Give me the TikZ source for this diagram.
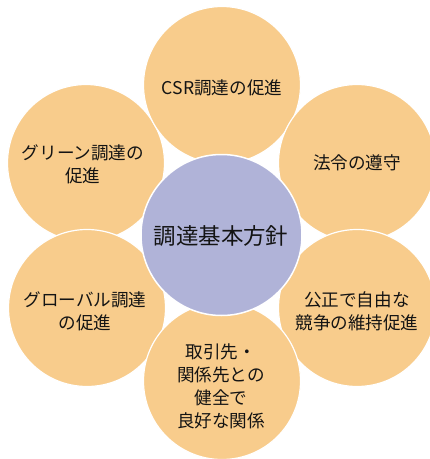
\documentclass[tikz,border=0pt]{standalone}
\usepackage{fontspec}
\setmainfont{Noto Sans CJK JP}
\definecolor{petal}{RGB}{248,204,140}
\definecolor{hub}{RGB}{176,179,216}
\definecolor{txt}{RGB}{20,20,20}
\begin{document}
\begin{tikzpicture}[x=1pt,y=-1pt,
  petalc/.style={circle,fill=petal,draw=white,line width=1.2pt,minimum size=157pt,inner sep=0pt},
  hubc/.style={circle,fill=hub,draw=white,line width=1.5pt,minimum size=161pt,inner sep=0pt},
  ptxt/.style={align=center,text=txt,font=\fontsize{17.6}{23}\selectfont},
  htxt/.style={align=center,text=txt,font=\fontsize{22.5}{27}\selectfont}]
\useasboundingbox (0,0) rectangle (430,459);
\node[petalc] (ul) at (86,163) {};
\node[petalc] (top) at (222,85) {};
\node[petalc] (ur) at (357,163) {};
\node[petalc] (lr) at (357,308) {};
\node[petalc] (ll) at (87,308) {};
\node[petalc] (bot) at (222,381) {};
\node[hubc] (hub) at (221.5,235) {};
\node[ptxt] (tTop) at (222,88) {CSR調達の促進};
\node[ptxt] (tUl) at (83,164) {グリーン調達の\\促進};
\node[ptxt] (tUr) at (357,163) {法令の遵守};
\node[ptxt] (tLr) at (357,311) {公正で自由な\\競争の維持促進};
\node[ptxt] (tLl) at (85,311) {グローバル調達\\の促進};
\node[ptxt] (tBot) at (221,386) {取引先・\\関係先との\\健全で\\良好な関係};
\node[htxt] (tHub) at (221,236) {調達基本方針};
\end{tikzpicture}
\end{document}
